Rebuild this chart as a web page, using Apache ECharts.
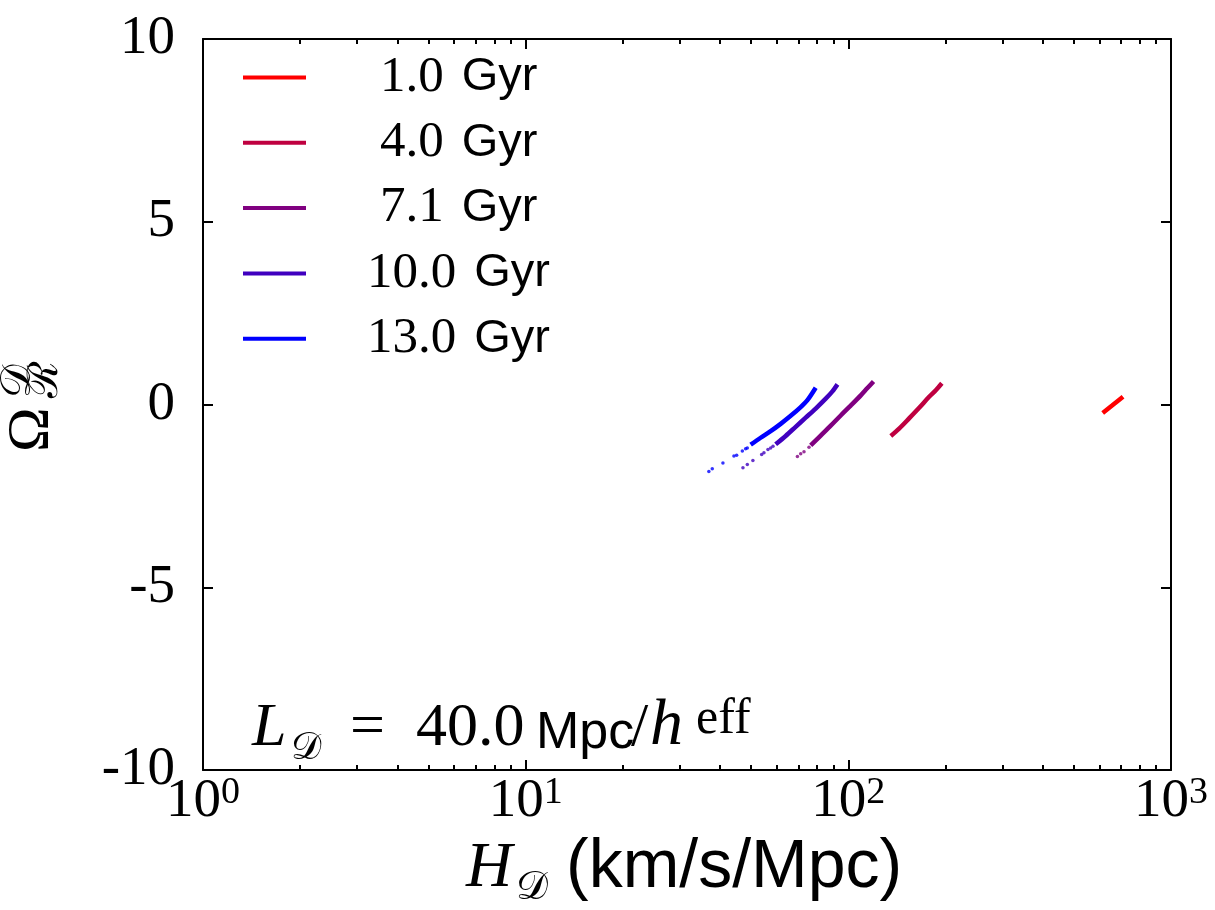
<!DOCTYPE html>
<html><head><meta charset="utf-8">
<script src="https://cdn.jsdelivr.net/npm/echarts@6/dist/echarts.min.js"></script>
<style>html,body{margin:0;padding:0;background:#fff}#c{width:1215px;height:910px}</style>
</head><body><div id="c"></div>
<script>
// ---- data ----
const ages = ['1.0 Gyr', '4.0 Gyr', '7.1 Gyr', '10.0 Gyr', '13.0 Gyr'];
const colors = ['#ff0000', '#bf0040', '#800080', '#4000bf', '#0000ff'];

// continuous parts of each curve: H_D (km/s/Mpc) and Omega_R
const h_1 = [614.2, 656.6, 710.1];
const om_1 = [-0.23, -0.03, 0.21];
const h_4 = [135.4, 143.7, 154.3, 165.8, 178.0, 186.7, 194.9];
const om_4 = [-0.86, -0.66, -0.38, -0.09, 0.21, 0.39, 0.58];
const h_7 = [76.44, 82.11, 88.19, 94.71, 101.7, 109.3, 114.6, 119.7];
const om_7 = [-1.12, -0.85, -0.58, -0.30, -0.03, 0.25, 0.45, 0.63];
const h_10 = [59.53, 63.94, 68.67, 73.76, 79.23, 85.10, 89.26, 92.54];
const om_10 = [-1.09, -0.86, -0.61, -0.36, -0.11, 0.16, 0.36, 0.55];
const h_13 = [49.80, 53.48, 57.44, 61.70, 66.27, 71.18, 74.68, 79.23];
const om_13 = [-1.10, -0.91, -0.73, -0.53, -0.31, -0.07, 0.12, 0.46];

// isolated points at the low end of the curves
const hs_7 = [69.53, 71.18, 72.88, 75.53];
const oms_7 = [-1.42, -1.35, -1.29, -1.17];
const hs_10 = [47.14, 48.63, 50.61, 53.87, 54.76, 56.35, 57.44, 58.41];
const oms_10 = [-1.73, -1.64, -1.53, -1.37, -1.32, -1.23, -1.19, -1.14];
const hs_13 = [36.96, 37.87, 40.86, 44.20, 45.06, 46.93, 48.05, 48.63];
const oms_13 = [-1.83, -1.76, -1.60, -1.41, -1.39, -1.27, -1.21, -1.19];

const xMajorTicks = [1, 10, 100, 1000];
const xMinorTicks = [2, 3, 4, 5, 6, 7, 8, 9, 20, 30, 40, 50, 60, 70, 80, 90, 200, 300, 400, 500, 600, 700, 800, 900];
const yTicks = [-10, -5, 0, 5, 10];

// ---- build ----
const zip = (a, b) => a.map((v, i) => [v, b[i]]);
const lines = [[h_1, om_1], [h_4, om_4], [h_7, om_7], [h_10, om_10], [h_13, om_13]];
const dots = [null, null, [hs_7, oms_7], [hs_10, oms_10], [hs_13, oms_13]];

const series = [];
ages.forEach((name, i) => {
  series.push({
    name: name, type: 'line', xAxisIndex: 0, yAxisIndex: 0,
    data: zip(lines[i][0], lines[i][1]), smooth: 0.3, showSymbol: false,
    lineStyle: { width: 4.5, color: colors[i] }, itemStyle: { color: colors[i] },
    silent: true, animation: false, z: 2 + i
  });
  if (dots[i]) {
    series.push({
      name: 'pts' + i, type: 'scatter', xAxisIndex: 0, yAxisIndex: 0,
      data: zip(dots[i][0], dots[i][1]), symbolSize: 3.5,
      itemStyle: { color: colors[i] }, silent: true, animation: false, z: 2 + i
    });
  }
});

const SERIF = "'Liberation Serif', 'DejaVu Serif', serif";
const SANS = "'Liberation Sans', 'DejaVu Sans', sans-serif";
const axisLineStyle = { color: '#000', width: 2 };

const logMinor = xMinorTicks.map(v => Math.log10(v));

const baseLog = { type: 'log', logBase: 10, min: 1, max: 1000, interval: 1, gridIndex: 0, splitLine: { show: false }, minorTick: { show: false } };

function txt(x, y, text, font, size, italic) {
  return {
    type: 'text', x: x, y: y, silent: true,
    style: { text: text, fontFamily: font, fontSize: size, fontStyle: italic ? 'italic' : 'normal', fill: '#000', align: 'left', verticalAlign: 'bottom' }
  };
}

const option = {
  backgroundColor: '#fff',
  animation: false,
  grid: { left: 203, right: 44, top: 39, bottom: 140, containLabel: false },
  legend: {
    data: ages, orient: 'vertical', left: 243, top: 52, padding: 0,
    icon: 'rect', itemWidth: 63, itemHeight: 4, itemGap: 14.3,
    selectedMode: false,
    formatter: function (name) {
      const parts = name.split(' ');
      const pad = parts[0].length < 4 ? '{p| }' : '';
      return pad + '{n|' + parts[0] + '}{g| }{u|' + parts[1] + '}';
    },
    textStyle: {
      padding: [0, 0, 0, 56],
      rich: {
        n: { fontFamily: SERIF, fontSize: 51, lineHeight: 50, color: '#000' },
        u: { fontFamily: SANS, fontSize: 47, lineHeight: 50, color: '#000' },
        g: { width: 18, fontSize: 20, lineHeight: 50 },
        p: { width: 13, fontSize: 20, lineHeight: 50 }
      }
    }
  },
  xAxis: [
    Object.assign({}, baseLog, {
      position: 'bottom', offset: 0,
      axisLine: { show: true, onZero: false, lineStyle: axisLineStyle },
      axisTick: { show: true, inside: true, length: 10, lineStyle: axisLineStyle },
      axisLabel: {
        show: true, margin: 4, color: '#000',
        formatter: function (v) { return '{b|10}{s|' + Math.round(Math.log10(v)) + '}'; },
        rich: {
          b: { fontFamily: SERIF, fontSize: 55, lineHeight: 55, color: '#000', verticalAlign: 'bottom', padding: [8, 0, 0, 0] },
          s: { fontFamily: SERIF, fontSize: 38, lineHeight: 38, color: '#000', verticalAlign: 'top' }
        }
      }
    }),
    Object.assign({}, baseLog, {
      position: 'top', offset: 0,
      axisLine: { show: true, onZero: false, lineStyle: axisLineStyle },
      axisTick: { show: true, inside: true, length: 10, lineStyle: axisLineStyle },
      axisLabel: { show: false }
    }),
    {
      type: 'value', min: 0, max: 3, gridIndex: 0, position: 'bottom', offset: 0,
      axisLine: { show: false, onZero: false }, splitLine: { show: false },
      axisTick: { show: true, inside: true, length: 5, lineStyle: axisLineStyle, customValues: logMinor },
      axisLabel: { show: false }
    },
    {
      type: 'value', min: 0, max: 3, gridIndex: 0, position: 'top', offset: 0,
      axisLine: { show: false, onZero: false }, splitLine: { show: false },
      axisTick: { show: true, inside: true, length: 5, lineStyle: axisLineStyle, customValues: logMinor },
      axisLabel: { show: false }
    }
  ],
  yAxis: [
    {
      type: 'value', min: -10, max: 10, interval: 5, position: 'left', gridIndex: 0,
      axisLine: { show: true, onZero: false, lineStyle: axisLineStyle },
      axisTick: { show: true, inside: true, length: 10, lineStyle: axisLineStyle },
      splitLine: { show: false },
      axisLabel: {
        show: true, margin: 28, color: '#000', fontFamily: SERIF, fontSize: 55,
        padding: [0, 0, 8, 0],
        customValues: yTicks,
        formatter: function (v) { return String(v); }
      }
    },
    {
      type: 'value', min: -10, max: 10, interval: 5, position: 'right', gridIndex: 0,
      axisLine: { show: true, onZero: false, lineStyle: axisLineStyle },
      axisTick: { show: true, inside: true, length: 10, lineStyle: axisLineStyle },
      splitLine: { show: false }, axisLabel: { show: false }
    }
  ],
  series: series,
  graphic: [
    // x axis title
    txt(466, 901, 'H', SERIF, 64, true),
    txt(516, 908, '𝒟', SERIF, 40, false),
    txt(566, 902, '(km/s/Mpc)', SANS, 68, false),
    // annotation
    txt(252, 760, 'L', SERIF, 62, true),
    txt(291, 768, '𝒟', SERIF, 38, false),
    txt(350, 760, '=', SERIF, 62, false),
    txt(416, 760, '40.0', SERIF, 62, false),
    txt(536, 760, 'Mpc', SANS, 52, false),
    txt(631, 760, '/', SERIF, 62, false),
    txt(650, 760, 'h', SERIF, 66, true),
    txt(696, 745, 'eff', SERIF, 50, false),
    // y axis title (rotated)
    {
      type: 'group', x: 62, y: 452, rotation: Math.PI / 2, silent: true,
      children: [
        txt(0, 0, 'Ω', SERIF, 60, false),
        txt(54, -22, '𝒟', SERIF, 42, false),
        txt(54, 5, 'ℛ', SERIF, 42, false)
      ]
    }
  ]
};

const chart = echarts.init(document.getElementById('c'), null, { renderer: 'canvas' });
chart.setOption(option);
</script>
</body></html>
